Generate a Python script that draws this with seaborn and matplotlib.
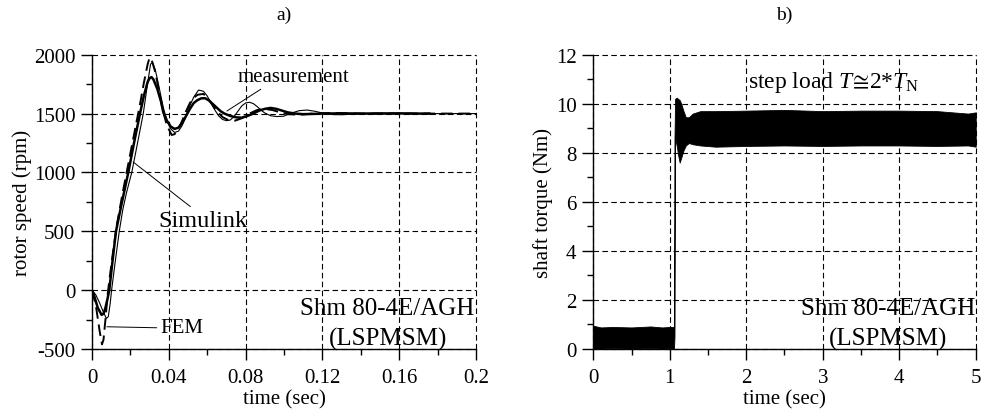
import matplotlib
matplotlib.use("Agg")
import matplotlib.pyplot as plt
from matplotlib.ticker import MultipleLocator
import seaborn as sns

# a) rotor speed (rpm) vs time (sec)
t_sim = [0, 0.002, 0.004, 0.006, 0.0075, 0.0085, 0.0095, 0.0102,
         0.012, 0.0142, 0.016, 0.018, 0.0207, 0.023, 0.0267, 0.029,
         0.0305, 0.0315, 0.033, 0.035, 0.037, 0.039, 0.041, 0.043,
         0.045, 0.047, 0.049, 0.051, 0.053, 0.0555, 0.058, 0.060,
         0.062, 0.064, 0.066, 0.068, 0.070, 0.072, 0.074, 0.076,
         0.078, 0.080, 0.082, 0.084, 0.086, 0.088, 0.090, 0.093,
         0.096, 0.0997, 0.104, 0.108, 0.112, 0.116, 0.120, 0.125,
         0.130, 0.140, 0.150, 0.160, 0.180, 0.200]
n_sim = [0, -40, -110, -190, -240, -225, -110, 0,
         230, 500, 680, 830, 1000, 1190, 1500, 1760,
         1920, 1935, 1870, 1720, 1560, 1440, 1370, 1340,
         1350, 1400, 1480, 1570, 1640, 1700, 1690, 1650,
         1590, 1530, 1480, 1450, 1440, 1445, 1475, 1520,
         1565, 1590, 1596, 1585, 1560, 1530, 1505, 1482,
         1475, 1477, 1505, 1525, 1530, 1520, 1505, 1492,
         1490, 1500, 1505, 1500, 1500, 1500]

t_meas = [0, 0.001, 0.003, 0.005, 0.006, 0.007, 0.008, 0.009,
          0.0105, 0.0125, 0.015, 0.0189, 0.022, 0.025, 0.027, 0.029,
          0.030, 0.031, 0.032, 0.034, 0.036, 0.037, 0.039, 0.041,
          0.043, 0.045, 0.047, 0.049, 0.051, 0.053, 0.055, 0.057,
          0.059, 0.061, 0.063, 0.065, 0.067, 0.069, 0.072, 0.075,
          0.078, 0.081, 0.084, 0.087, 0.090, 0.093, 0.096, 0.099,
          0.102, 0.106, 0.110, 0.115, 0.120, 0.130, 0.140, 0.150,
          0.160, 0.170, 0.176]
n_meas = [0, -40, -150, -210, -200, -150, -80, 0,
          220, 500, 700, 1000, 1260, 1500, 1650, 1770,
          1800, 1810, 1790, 1710, 1600, 1520, 1440, 1390,
          1370, 1380, 1420, 1480, 1540, 1590, 1615, 1630,
          1630, 1610, 1580, 1550, 1520, 1500, 1480, 1468,
          1465, 1480, 1500, 1525, 1540, 1548, 1540, 1525,
          1510, 1500, 1495, 1497, 1500, 1502, 1500, 1500,
          1502, 1500, 1500]

t_fem = [0, 0.002, 0.004, 0.0052, 0.006, 0.007, 0.008, 0.009,
         0.011, 0.013, 0.016, 0.019, 0.022, 0.025, 0.027, 0.029,
         0.030, 0.031, 0.033, 0.035, 0.037, 0.039, 0.0415, 0.043,
         0.045, 0.047, 0.049, 0.051, 0.053, 0.055, 0.058, 0.060,
         0.062, 0.065, 0.068, 0.071, 0.0745, 0.078, 0.082, 0.086,
         0.090, 0.094, 0.098, 0.102, 0.108, 0.115, 0.125, 0.140,
         0.160, 0.200]
n_fem = [0, -130, -350, -460, -420, -250, -60, 80,
         330, 560, 830, 1080, 1330, 1580, 1760, 1920,
         1975, 1960, 1850, 1680, 1520, 1400, 1318, 1325,
         1370, 1440, 1520, 1590, 1635, 1660, 1667, 1640,
         1590, 1520, 1470, 1445, 1440, 1460, 1500, 1530,
         1540, 1530, 1510, 1495, 1490, 1500, 1505, 1500,
         1500, 1500]

# b) shaft torque band (lower / upper envelope of the oscillation)
t_trq = [0, 0.1, 0.25, 0.5, 0.75, 0.9, 1.0, 1.055,
         1.062, 1.07, 1.09, 1.11, 1.13, 1.15, 1.18, 1.21,
         1.25, 1.3, 1.4, 1.6, 2.0, 2.5, 3.0, 3.5,
         4.0, 4.5, 4.9, 5.0]
trq_lo = [0.02, 0.02, 0.03, 0.02, 0.03, 0.02, 0.03, 0.02,
          0.5, 8.6, 8.3, 7.9, 7.6, 7.8, 8.1, 8.3,
          8.4, 8.35, 8.3, 8.25, 8.28, 8.3, 8.28, 8.3,
          8.3, 8.28, 8.3, 8.25]
trq_hi = [0.95, 0.88, 0.9, 0.88, 0.92, 0.88, 0.9, 0.9,
          8.6, 10.2, 10.25, 10.2, 10.15, 10.0, 9.7, 9.45,
          9.45, 9.6, 9.7, 9.7, 9.72, 9.75, 9.7, 9.72,
          9.72, 9.7, 9.6, 9.65]

xticks_a = [0, 0.04, 0.08, 0.12, 0.16, 0.2]
xlabels_a = ["0", "0.04", "0.08", "0.12", "0.16", "0.2"]
yticks_a = [-500, 0, 500, 1000, 1500, 2000]
ylabels_a = ["-500", "0", "500", "1000", "1500", "2000"]
xticks_b = [0, 1, 2, 3, 4, 5]
yticks_b = [0, 2, 4, 6, 8, 10, 12]

sns.set_theme(style="ticks")
plt.rcParams["font.family"] = ["Liberation Serif", "DejaVu Serif"]
plt.rcParams["mathtext.fontset"] = "custom"
plt.rcParams["mathtext.rm"] = "Liberation Serif"
plt.rcParams["mathtext.it"] = "Liberation Serif:italic"
plt.rcParams["axes.edgecolor"] = "black"
plt.rcParams["xtick.color"] = "black"
plt.rcParams["ytick.color"] = "black"
plt.rcParams["text.color"] = "black"
plt.rcParams["axes.labelcolor"] = "black"

fig = plt.figure(figsize=(9.84, 4.10), dpi=100)
ax1 = fig.add_axes([0.0935, 0.1463, 0.3902, 0.7178])
ax2 = fig.add_axes([0.6029, 0.1463, 0.3887, 0.7178])

# --- a) ---
sns.lineplot(x=t_sim, y=n_sim, ax=ax1, color="black", linewidth=0.8,
             sort=False, estimator=None)
sns.lineplot(x=t_fem, y=n_fem, ax=ax1, color="black", linewidth=1.4,
             linestyle=(0, (6, 3)), sort=False, estimator=None)
sns.lineplot(x=t_meas, y=n_meas, ax=ax1, color="black", linewidth=1.8,
             sort=False, estimator=None)

ax1.set_xlim(0, 0.2)
ax1.set_ylim(-500, 2000)
ax1.set_xticks(xticks_a)
ax1.set_xticklabels(xlabels_a)
ax1.set_yticks(yticks_a)
ax1.set_yticklabels(ylabels_a)
ax1.xaxis.set_minor_locator(MultipleLocator(0.02))
ax1.yaxis.set_minor_locator(MultipleLocator(250))
ax1.set_xlabel("time (sec)", fontsize=15)
ax1.set_ylabel("rotor speed (rpm)", fontsize=15)
ax1.set_title("a)", fontsize=14, pad=26)

arrow = dict(arrowstyle="-", color="black", lw=0.7, shrinkA=0, shrinkB=0)
ax1.annotate("measurement", xy=(0.0703, 1522), xytext=(0.076, 1777),
             fontsize=15, ha="left", va="baseline",
             arrowprops=dict(arrow, relpos=(0.25, 0.0)))
ax1.annotate("Simulink", xy=(0.0214, 1089), xytext=(0.0344, 546),
             fontsize=17.5, ha="left", va="baseline",
             arrowprops=dict(arrow, relpos=(0.41, 1.0)))
ax1.annotate("FEM", xy=(0.0078, -311), xytext=(0.0354, -320),
             fontsize=15, ha="left", va="center",
             arrowprops=dict(arrow, relpos=(0.0, 0.5)))

# --- b) ---
ax2.fill_between(t_trq, trq_lo, trq_hi, color="black", linewidth=0.6,
                 edgecolor="black")
ax2.set_xlim(0, 5)
ax2.set_ylim(0, 12)
ax2.set_xticks(xticks_b)
ax2.set_xticklabels([str(v) for v in xticks_b])
ax2.set_yticks(yticks_b)
ax2.set_yticklabels([str(v) for v in yticks_b])
ax2.xaxis.set_minor_locator(MultipleLocator(0.5))
ax2.yaxis.set_minor_locator(MultipleLocator(1))
ax2.set_xlabel("time (sec)", fontsize=15)
ax2.set_ylabel("shaft torque (Nm)", fontsize=15)
ax2.set_title("b)", fontsize=14, pad=26)
ax2.text(0.404, 0.889, r"step load $T\!\cong\!2{*}T_{\mathrm{N}}$",
         transform=ax2.transAxes, fontsize=17, ha="left", va="baseline")

for ax, ylab_x in ((ax1, -0.157), (ax2, -0.105)):
    ax.xaxis.set_label_coords(0.5, -0.135)
    ax.yaxis.set_label_coords(ylab_x, 0.5)
    ax.grid(True, which="major", color="black", linestyle=(0, (5, 3)),
            linewidth=0.8)
    for gl in ax.get_xgridlines() + ax.get_ygridlines():
        gl.set_clip_on(False)
    ax.spines["top"].set_visible(False)
    ax.spines["right"].set_visible(False)
    for sp in ("left", "bottom"):
        ax.spines[sp].set_linewidth(1.0)
    ax.tick_params(which="major", direction="out", length=8, width=1.0,
                   labelsize=15, pad=4)
    ax.tick_params(axis="x", which="major", pad=6)
    ax.tick_params(which="minor", direction="out", length=4, width=1.0)
    ax.set_facecolor("white")
    ax.text(0.77, 0.119, "Shm 80-4E/AGH", transform=ax.transAxes,
            fontsize=18, ha="center", va="baseline")
    ax.text(0.77, 0.015, "(LSPMSM)", transform=ax.transAxes,
            fontsize=18, ha="center", va="baseline")

fig.savefig("out.png", dpi=100, facecolor="white")
